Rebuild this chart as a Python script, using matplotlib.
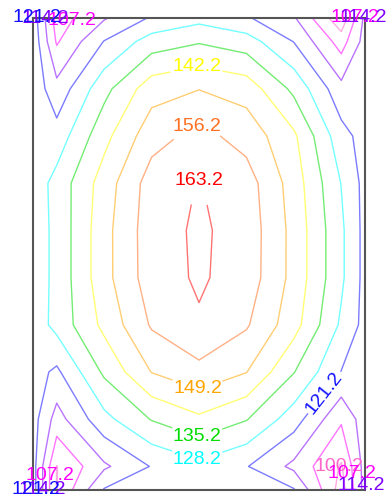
import numpy as np
import matplotlib
matplotlib.use("Agg")
import matplotlib.pyplot as plt

# grid nodes: walls at 0 and 7 / 0 and 10, cell centres in between
x_nodes = [0, 0.5, 1.5, 2.5, 3.5, 4.5, 5.5, 6.5, 7]
y_nodes = [0, 0.5, 1.5, 2.5, 3.5, 4.5, 5.5, 6.5, 7.5, 8.5, 9.5, 10]

# temperature values, bottom row first
temps = [
    [124.0, 100.0, 121.8, 123.5, 124.0, 123.5, 121.8, 97.0, 117.0],
    [124.0, 100.0, 113.0, 121.6, 126.2, 121.6, 112.5, 99.5, 117.0],
    [124.0, 111.3, 126.1, 135.6, 140.8, 135.6, 124.5, 108.2, 118.0],
    [124.0, 119.8, 136.5, 149.4, 154.1, 149.4, 135.5, 121.0, 118.5],
    [124.0, 130.5, 144.0, 157.0, 162.4, 157.0, 145.0, 127.0, 119.0],
    [124.0, 130.2, 146.8, 160.0, 164.1, 160.2, 147.0, 129.5, 119.0],
    [124.0, 130.2, 146.8, 160.2, 164.3, 160.4, 147.0, 129.5, 119.0],
    [124.0, 130.7, 145.5, 159.5, 163.5, 159.5, 146.0, 128.0, 119.0],
    [125.0, 124.1, 140.0, 153.5, 158.4, 153.5, 143.5, 123.7, 118.5],
    [126.0, 116.5, 133.0, 146.3, 149.0, 146.3, 133.5, 116.4, 118.0],
    [126.0, 106.4, 121.5, 131.5, 134.6, 131.5, 121.0, 104.0, 117.0],
    [125.0, 103.7, 113.5, 122.0, 126.0, 122.0, 115.0, 95.0, 116.0],
]

levels = [100.2, 107.2, 114.2, 121.2, 128.2, 135.2, 142.2, 149.2, 156.2, 163.2]
level_colors = ["#ff66cc", "#ff00ff", "#8000ff", "#1010ff", "#00ffff",
                "#00dd00", "#ffff00", "#ffa500", "#ff7020", "#ff0000"]

# label spots along the lines (data coords), per level
inline_spots = {
    121.2: [(6.35, 1.9)],
    128.2: [(3.46, 0.64)],
    135.2: [(3.46, 1.12)],
    142.2: [(3.46, 8.9)],
    149.2: [(3.46, 2.12)],
    156.2: [(3.46, 7.69)],
    163.2: [(3.5, 6.55)],
}
# labels piled up in the corners, drawn flat
corner_spots = {
    100.2: [(6.45, 0.5)],
    107.2: [(0.75, 10.0), (6.85, 10.0), (0.55, 0.3), (6.7, 0.35)],
    114.2: [(0.45, 10.0), (7.0, 10.0), (0.4, 0.0), (6.85, 0.1)],
    121.2: [(0.0, 10.0), (0.1, 0.0)],
}

X, Y = np.meshgrid(x_nodes, y_nodes)
Z = np.array(temps)

plt.rcParams['font.family'] = ['Liberation Sans', 'DejaVu Sans']
fig = plt.figure(figsize=(3.9, 4.96), dpi=100)
ax = fig.add_axes([33 / 390, 6 / 496, 332 / 390, 472 / 496])
ax.set_xlim(0, 7)
ax.set_ylim(0, 10)

# one contour set per level so each one can get its own label spots
for lev, col in zip(levels, level_colors):
    cs = ax.contour(X, Y, Z, levels=[lev], colors=[col],
                    linewidths=1.0, alpha=0.55)
    if lev in inline_spots:
        txts = cs.clabel(manual=inline_spots[lev], inline=True,
                         inline_spacing=2, fontsize=14, fmt="%.1f",
                         colors=[col])
        for t in txts:
            t.set_alpha(1.0)
            t.set_clip_on(False)
            if lev != 121.2:
                t.set_rotation(0)
    if lev in corner_spots:
        n0 = len(cs.labelTexts) if hasattr(cs, "labelTexts") else 0
        txts = cs.clabel(manual=corner_spots[lev], inline=False,
                         fontsize=14, fmt="%.1f", colors=[col])
        for t in txts[n0:]:
            t.set_alpha(1.0)
            t.set_rotation(0)
            t.set_clip_on(False)

ax.set_xticks([])
ax.set_yticks([])
for s in ax.spines.values():
    s.set_color("#555555")
    s.set_linewidth(1.5)

fig.savefig("out.png", dpi=100)
